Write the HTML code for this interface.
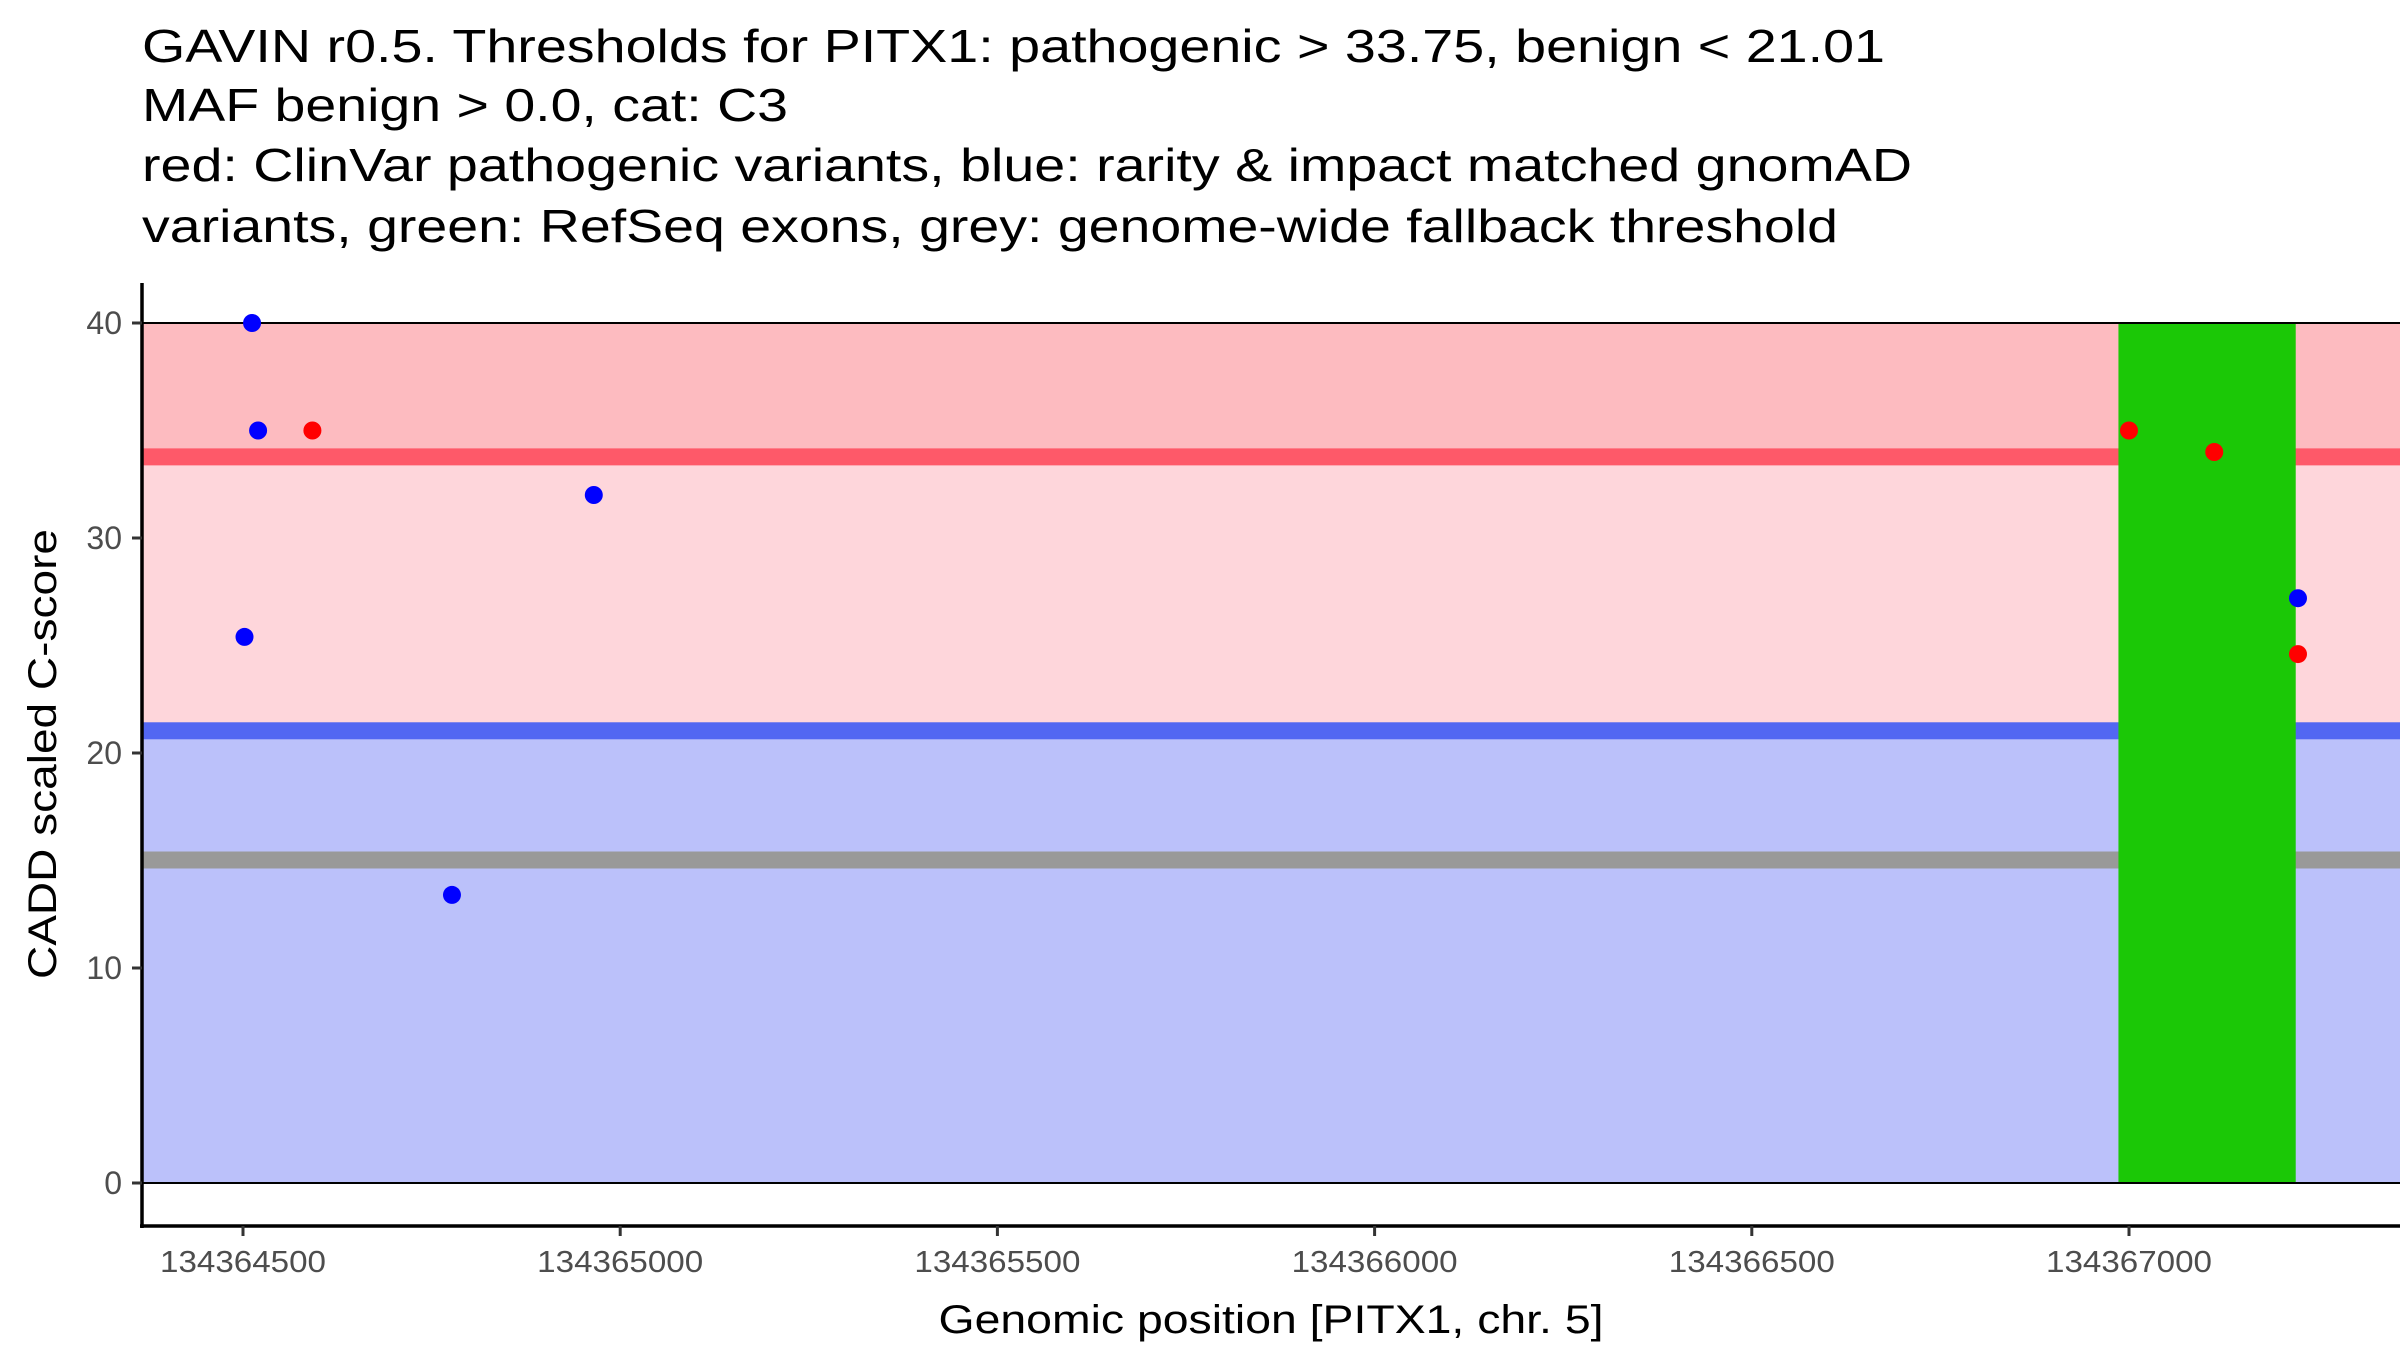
<!DOCTYPE html>
<html><head><meta charset="utf-8"><style>
html,body{margin:0;padding:0;background:#fff;}
svg{display:block;font-family:"Liberation Sans",Arial,sans-serif;}
</style></head><body>
<svg id="chart" width="2400" height="1350" xmlns="http://www.w3.org/2000/svg">
<g font-size="46" fill="#000">
<text x="142" y="62" textLength="1743" lengthAdjust="spacingAndGlyphs">GAVIN r0.5. Thresholds for PITX1: pathogenic &gt; 33.75, benign &lt; 21.01</text>
<text x="142" y="121" textLength="646" lengthAdjust="spacingAndGlyphs">MAF benign &gt; 0.0, cat: C3</text>
<text x="142" y="181" textLength="1770" lengthAdjust="spacingAndGlyphs">red: ClinVar pathogenic variants, blue: rarity &amp; impact matched gnomAD</text>
<text x="142" y="242" textLength="1696" lengthAdjust="spacingAndGlyphs">variants, green: RefSeq exons, grey: genome-wide fallback threshold</text>
</g>
<g id="plot"></g>
<text transform="translate(56,754) rotate(-90)" text-anchor="middle" font-size="40" fill="#000" textLength="450" lengthAdjust="spacingAndGlyphs">CADD scaled C-score</text>
<text x="1271" y="1333" text-anchor="middle" font-size="40" fill="#000" textLength="665" lengthAdjust="spacingAndGlyphs">Genomic position [PITX1, chr. 5]</text>
</svg>
<script>
const xTicks = [134364500, 134365000, 134365500, 134366000, 134366500, 134367000];
const yTicks = [0, 10, 20, 30, 40];
const pathThreshold = 33.75;
const benignThreshold = 21.01;
const fallbackThreshold = 15;
const yMax = 40;
const exonStart = [134366986];
const exonEnd = [134367221];
const blueX = [134364512, 134364520, 134364502, 134364965, 134364777, 134367224];
const blueY = [40, 35, 25.4, 32, 13.4, 27.2];
const redX = [134364592, 134367000, 134367113, 134367224];
const redY = [35, 35, 34, 24.6];

const NS = "http://www.w3.org/2000/svg";
const L = 142, R = 2400, Y0px = 1183, Y40px = 323;
const X500 = 243, X3000 = 2129;
function xs(v){ return X500 + (v - 134364500) * (X3000 - X500) / 2500; }
function ys(v){ return Y0px - v * (Y0px - Y40px) / 40; }
const g = document.getElementById('plot');
function mk(tag, attrs){ const e = document.createElementNS(NS, tag); for (const k in attrs) e.setAttribute(k, attrs[k]); g.appendChild(e); return e; }

let e;
e = mk('rect', {x:L, y:ys(yMax), width:R-L, height:ys(pathThreshold)-ys(yMax), fill:'#fdbbc0'});


e = mk('rect', {x:L, y:ys(pathThreshold), width:R-L, height:ys(benignThreshold)-ys(pathThreshold), fill:'#fed6db'});


e = mk('rect', {x:L, y:ys(benignThreshold), width:R-L, height:ys(0)-ys(benignThreshold), fill:'#bbc1fa'});


e = mk('rect', {x:L, y:ys(pathThreshold)-9, width:R-L, height:17, fill:'#fe5969'});


e = mk('rect', {x:L, y:ys(benignThreshold)-9, width:R-L, height:17, fill:'#5267f2'});


e = mk('rect', {x:L, y:ys(fallbackThreshold)-9, width:R-L, height:17, fill:'#999999'});


for (let i = 0; i < exonStart.length; i++) {
  e = mk('rect', {x:xs(exonStart[i]), y:ys(yMax), width:xs(exonEnd[i])-xs(exonStart[i]), height:ys(0)-ys(yMax), fill:'#1bc806'});
  
  
}
e = mk('line', {x1:L, x2:R, y1:ys(yMax), y2:ys(yMax), stroke:'#000', 'stroke-width':2});


e = mk('line', {x1:L, x2:R, y1:ys(0), y2:ys(0), stroke:'#000', 'stroke-width':2});


for (let i = 0; i < blueX.length; i++) {
  e = mk('circle', {cx:xs(blueX[i]), cy:ys(blueY[i]), r:9, fill:'#0000ff'});
  
  
}
for (let i = 0; i < redX.length; i++) {
  e = mk('circle', {cx:xs(redX[i]), cy:ys(redY[i]), r:9, fill:'#ff0000'});
  
  
}
e = mk('line', {x1:L, x2:L, y1:283, y2:1228, stroke:'#000', 'stroke-width':3.5});


e = mk('line', {x1:L-2, x2:R, y1:1226, y2:1226, stroke:'#000', 'stroke-width':3.5});


for (const t of yTicks) {
  e = mk('line', {x1:L-10, x2:L, y1:ys(t), y2:ys(t), stroke:'#333', 'stroke-width':3});
  
  
  e = mk('text', {x:L-20, y:ys(t)+11, 'text-anchor':'end', 'font-size':32, fill:'#4d4d4d'});
  e.textContent = t;
  
  
}
for (const t of xTicks) {
  e = mk('line', {x1:xs(t), x2:xs(t), y1:1226, y2:1236, stroke:'#333', 'stroke-width':3});
  
  
  e = mk('text', {x:xs(t), y:1272, 'text-anchor':'middle', 'font-size':31, fill:'#4d4d4d', textLength:166, lengthAdjust:'spacingAndGlyphs'});
  e.textContent = t;
  
  
}
</script>
</body></html>
